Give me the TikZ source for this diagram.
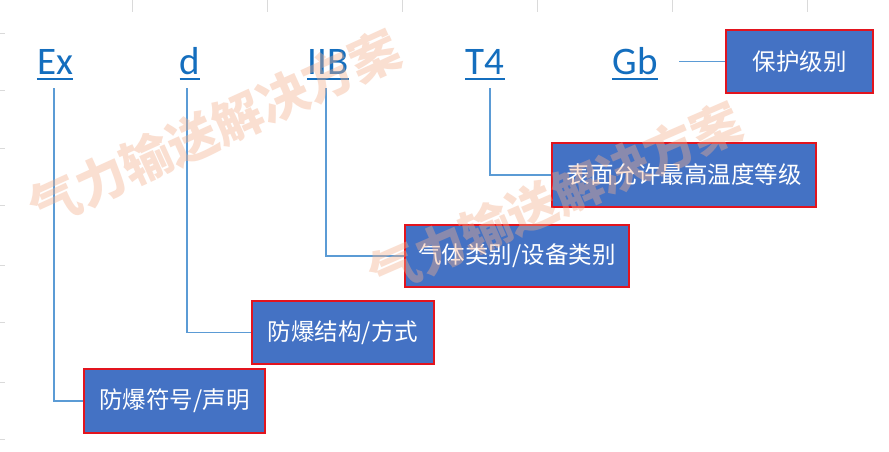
\documentclass[tikz,border=0pt]{standalone}
\usepackage{fontspec}
\setmainfont{Carlito}
\newfontfamily\cjk{Noto Sans CJK SC}
\definecolor{lblue}{RGB}{20,110,190}
\definecolor{boxblue}{RGB}{68,114,196}
\definecolor{boxred}{RGB}{226,20,30}
\definecolor{conn}{RGB}{91,155,213}
\definecolor{gridgray}{RGB}{218,218,218}
\definecolor{wmark}{RGB}{243,175,140}
\tikzset{
  code/.style={inner sep=0pt, anchor=base, text=lblue, font=\fontsize{39}{39}\selectfont},
  uline/.style={draw=lblue, line width=1.5pt},
  infobox/.style={draw=boxred, line width=2pt, fill=boxblue, text=white, inner sep=0pt,
     font=\cjk\fontsize{23.5}{23.5}\selectfont},
  connector/.style={draw=conn, line width=1.5pt},
  gridline/.style={draw=gridgray, line width=0.8pt},
  watermark/.style={text=wmark, opacity=0.4, font=\cjk\bfseries\fontsize{50}{50}\selectfont, inner sep=0pt}
}
\begin{document}
\begin{tikzpicture}[x=1pt,y=-1pt]
\useasboundingbox (0,0) rectangle (889,451);
\fill[white] (0,0) rectangle (889,451);
% faint spreadsheet grid remnants
\foreach \gx in {132,267,402,537,672,807} \draw[gridline] (\gx,0) -- (\gx,12);
\foreach \gy in {33,90,148,205,265,322,382,439} \draw[gridline] (0,\gy) -- (5,\gy);
% code labels
\node[code] (ex) at (55,74) {Ex};
\node[code] (d) at (190,74) {d};
\node[code] (iib) at (328,74) {IIB};
\node[code] (t4) at (485,74) {T4};
\node[code] (gb) at (635,74) {Gb};
\foreach \n in {ex,d,iib,t4,gb}
  \draw[uline] ([yshift=-5pt]\n.base west) -- ([yshift=-5pt]\n.base east);
% boxes
\node[infobox, minimum width=181pt, minimum height=64pt] (b1) at (174.5,401) {防爆符号/声明};
\node[infobox, minimum width=182pt, minimum height=63pt] (b2) at (343,332.5) {防爆结构/方式};
\node[infobox, minimum width=224pt, minimum height=62pt] (b3) at (517,256) {气体类别/设备类别};
\node[infobox, minimum width=264pt, minimum height=64pt] (b4) at (684,175) {表面允许最高温度等级};
\node[infobox, minimum width=147pt, minimum height=63pt] (b5) at (799.5,61.5) {保护级别};
% connector start points
\coordinate (exs) at (54,88);
\coordinate (ds) at (187,88);
\coordinate (iibs) at (326,88);
\coordinate (t4s) at (490,88);
\coordinate (gbs) at (679,61.5);
\draw[connector] (exs) |- (b1.west);
\draw[connector] (ds) |- (b2.west);
\draw[connector] (iibs) |- (b3.west);
\draw[connector] (t4s) |- (b4.west);
\draw[connector] (gbs) -- (b5.west);
% watermarks
\node[watermark, rotate=24.5] (wm1) at (215,128) {气力输送解决方案};
\node[watermark, rotate=23.5] (wm2) at (555,198) {气力输送解决方案};
\end{tikzpicture}
\end{document}
